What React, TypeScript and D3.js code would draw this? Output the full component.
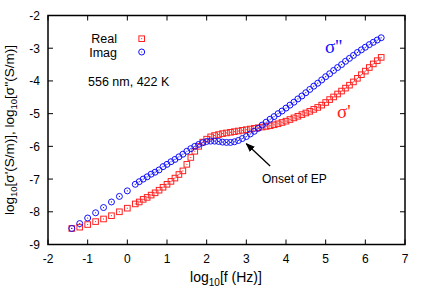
import React from 'react';
import { scaleLinear, range } from 'd3';

// log10 of frequency (Hz)
const logF = [
  -1.4, -1.2, -1.0, -0.8, -0.6, -0.4, -0.2, 0.0,
  0.2, 0.3, 0.4, 0.5, 0.6, 0.7, 0.8, 0.9, 1.0, 1.1, 1.2, 1.3, 1.4, 1.5, 1.6, 1.7, 1.8, 1.9,
  2.0, 2.1, 2.2, 2.3, 2.4, 2.5, 2.6, 2.7, 2.8, 2.9, 3.0, 3.1, 3.2, 3.3, 3.4, 3.5, 3.6, 3.7,
  3.8, 3.9, 4.0, 4.1, 4.2, 4.3, 4.4, 4.5, 4.6, 4.7, 4.8, 4.9, 5.0, 5.1, 5.2, 5.3, 5.4, 5.5,
  5.6, 5.7, 5.8, 5.9, 6.0, 6.1, 6.2, 6.3, 6.4,
];

// log10 sigma' (real part)
const realVals = [
  -8.51, -8.47, -8.39, -8.30, -8.22, -8.12, -8.00, -7.89,
  -7.76, -7.70, -7.62, -7.56, -7.49, -7.42, -7.34, -7.25, -7.16, -7.07, -6.97, -6.86, -6.75, -6.55, -6.34, -6.15, -6.00, -5.87,
  -5.78, -5.71, -5.67, -5.64, -5.61, -5.59, -5.57, -5.55, -5.53, -5.51, -5.49, -5.47, -5.45, -5.43, -5.41, -5.39, -5.37, -5.34,
  -5.31, -5.27, -5.23, -5.18, -5.13, -5.08, -5.03, -4.98, -4.93, -4.87, -4.81, -4.74, -4.66, -4.57, -4.49, -4.40, -4.31, -4.22,
  -4.13, -4.03, -3.92, -3.81, -3.70, -3.59, -3.48, -3.38, -3.28,
];

// log10 sigma'' (imaginary part)
const imagVals = [
  -8.51, -8.36, -8.19, -8.03, -7.87, -7.70, -7.53, -7.36,
  -7.16, -7.08, -7.00, -6.93, -6.85, -6.79, -6.72, -6.62, -6.55, -6.47, -6.40, -6.32, -6.24, -6.15, -6.07, -6.00, -5.94, -5.89,
  -5.85, -5.84, -5.84, -5.85, -5.87, -5.88, -5.88, -5.86, -5.82, -5.76, -5.70, -5.62, -5.54, -5.45, -5.35, -5.26, -5.17, -5.09,
  -5.00, -4.92, -4.83, -4.74, -4.65, -4.55, -4.46, -4.36, -4.26, -4.16, -4.07, -3.97, -3.87, -3.78, -3.68, -3.59, -3.50, -3.40,
  -3.31, -3.22, -3.13, -3.05, -2.97, -2.89, -2.82, -2.75, -2.68,
];

const xTicks = [-2, -1, 0, 1, 2, 3, 4, 5, 6, 7];
const yTicks = [-9, -8, -7, -6, -5, -4, -3, -2];

const RED = '#ff2020';
const BLUE = '#1010ff';
const FONT = 'Liberation Sans, Arial, sans-serif';

const W = 428;
const H = 300;
const margin = { left: 48, right: 23, top: 15.5, bottom: 55.5 };

const x = scaleLinear().domain([-2, 7]).range([margin.left, W - margin.right]);
const y = scaleLinear().domain([-9, -2]).range([H - margin.bottom, margin.top]);

const Square = ({ cx, cy }: { cx: number; cy: number }) => (
  <g>
    <rect x={cx - 2.8} y={cy - 2.8} width={5.6} height={5.6} fill="none" stroke={RED} strokeWidth={1} />
    <rect x={cx - 0.5} y={cy - 0.5} width={1} height={1} fill={RED} />
  </g>
);

const Circle = ({ cx, cy }: { cx: number; cy: number }) => (
  <g>
    <circle cx={cx} cy={cy} r={3} fill="none" stroke={BLUE} strokeWidth={1} />
    <circle cx={cx} cy={cy} r={0.6} fill={BLUE} />
  </g>
);

const App = () => {
  const x0 = x.range()[0];
  const x1 = x.range()[1];
  const y0 = y.range()[0];
  const y1 = y.range()[1];
  const tl = 5;

  return (
    <svg width={W} height={H} style={{ position: 'absolute', left: 0, top: 0, background: '#fff' }}>
      {/* ticks, mirrored on all four sides */}
      {xTicks.map((t) => (
        <g key={'xt' + t}>
          <line x1={x(t)} x2={x(t)} y1={y0} y2={y0 - tl} stroke="#000" />
          <line x1={x(t)} x2={x(t)} y1={y1} y2={y1 + tl} stroke="#000" />
          <text x={x(t)} y={y0 + 18} textAnchor="middle" fontFamily={FONT} fontSize={12}>
            {t}
          </text>
        </g>
      ))}
      {yTicks.map((t) => (
        <g key={'yt' + t}>
          <line x1={x0} x2={x0 + tl} y1={y(t)} y2={y(t)} stroke="#000" />
          <line x1={x1} x2={x1 - tl} y1={y(t)} y2={y(t)} stroke="#000" />
          <text x={x0 - 8} y={y(t) + 4.5} textAnchor="end" fontFamily={FONT} fontSize={12}>
            {t}
          </text>
        </g>
      ))}

      {/* data */}
      {range(logF.length).map((i) => (
        <Square key={'r' + i} cx={x(logF[i])} cy={y(realVals[i])} />
      ))}
      {range(logF.length).map((i) => (
        <Circle key={'b' + i} cx={x(logF[i])} cy={y(imagVals[i])} />
      ))}

      <rect x={x0} y={y1} width={x1 - x0} height={y0 - y1} fill="none" stroke="#000" strokeWidth={1.5} />

      {/* legend */}
      <text x={117} y={43} textAnchor="end" fontFamily={FONT} fontSize={12.5}>Real</text>
      <Square cx={141.7} cy={38.7} />
      <text x={117} y={57} textAnchor="end" fontFamily={FONT} fontSize={12.5}>Imag</text>
      <Circle cx={141.7} cy={52} />
      <text x={88} y={86} fontFamily={FONT} fontSize={12.5}>556 nm, 422 K</text>

      {/* curve labels */}
      <text x={325} y={53} fill={BLUE} fontFamily="Liberation Serif, Times New Roman, serif" fontSize={19}>σ''</text>
      <text x={337} y={118} fill={RED} fontFamily="Liberation Serif, Times New Roman, serif" fontSize={19}>σ'</text>

      {/* annotation arrow */}
      <defs>
        <marker id="ah" viewBox="0 0 10 10" refX={9} refY={5} markerWidth={7} markerHeight={7} orient="auto">
          <path d="M0,1 L10,5 L0,9 z" fill="#000" />
        </marker>
      </defs>
      <line x1={x(3.6)} y1={y(-6.6)} x2={x(3.0)} y2={y(-5.92)} stroke="#000" strokeWidth={1.3} markerEnd="url(#ah)" />
      <text x={262} y={183} fontFamily={FONT} fontSize={12}>Onset of EP</text>

      {/* axis titles */}
      <text x={226} y={282} textAnchor="middle" fontFamily={FONT} fontSize={14}>
        log<tspan fontSize={10} dy={3.5}>10</tspan>
        <tspan dy={-3.5}>[f (Hz)]</tspan>
      </text>
      <text
        transform={`translate(14, ${(y0 + y1) / 2}) rotate(-90)`}
        textAnchor="middle"
        fontFamily={FONT}
        fontSize={13.5}
      >
        log<tspan fontSize={9.5} dy={3}>10</tspan>
        <tspan dy={-3}>[σ'(S/m)], log</tspan>
        <tspan fontSize={9.5} dy={3}>10</tspan>
        <tspan dy={-3}>[σ''(S/m)]</tspan>
      </text>
    </svg>
  );
};

export default App;
